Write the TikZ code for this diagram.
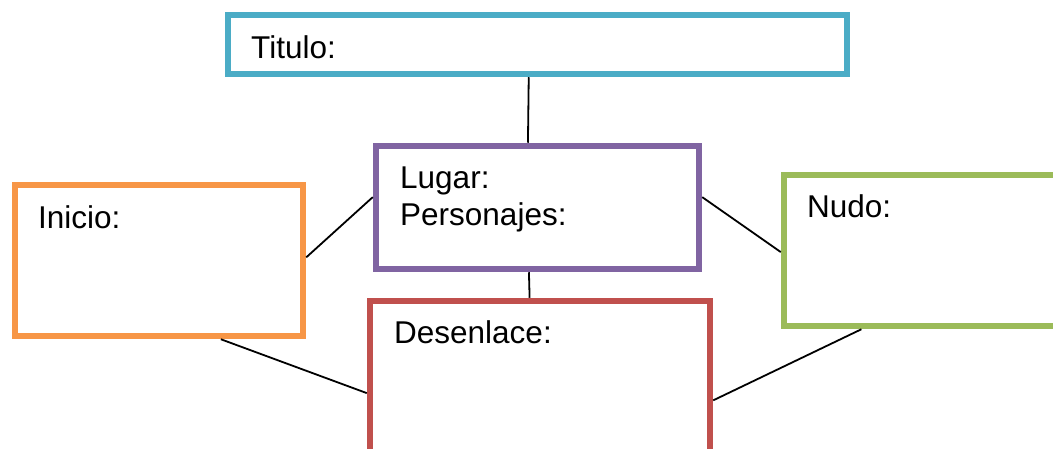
\documentclass[tikz,border=0pt]{standalone}
\usepackage{fontspec}
\setmainfont{Liberation Sans}
\usetikzlibrary{calc}
\definecolor{cTeal}{HTML}{4BACC6}
\definecolor{cPurple}{HTML}{8064A2}
\definecolor{cOrange}{HTML}{F79646}
\definecolor{cGreen}{HTML}{9BBB59}
\definecolor{cRed}{HTML}{C0504D}
\tikzset{
  box/.style={rectangle, line width=6.5bp, fill=white, inner sep=0pt, minimum width=#1},
  lbl/.style={anchor=base west, inner sep=0pt, font=\fontsize{31.5bp}{37bp}\selectfont},
  link/.style={line width=1.8bp, black},
}
\begin{document}
\begin{tikzpicture}[x=1bp,y=-1bp]
\useasboundingbox (0,0) rectangle (1053,449);
\clip (0,0) rectangle (1053,449);
\fill[white] (0,0) rectangle (1053,449);
% boxes
\node[box=619bp, minimum height=59bp, draw=cTeal] (titulo) at (537.5,44.5) {};
\node[box=323bp, minimum height=123bp, draw=cPurple] (lugar) at (537.5,207.5) {};
\node[box=288bp, minimum height=151bp, draw=cOrange] (inicio) at (159,260.5) {};
\node[box=306bp, minimum height=151bp, draw=cGreen] (nudo) at (937,250.5) {};
\node[box=340bp, minimum height=179bp, draw=cRed] (desenlace) at (540,390.5) {};
% connectors
\draw[link] ($(titulo.south west)!0.486!(titulo.south east)$) -- ($(lugar.north west)!0.471!(lugar.north east)$);
\draw[link] ($(lugar.north west)!0.42!(lugar.south west)$) -- ($(inicio.north east)!0.48!(inicio.south east)$);
\draw[link] ($(lugar.north east)!0.42!(lugar.south east)$) -- ($(nudo.north west)!0.51!(nudo.south west)$);
\draw[link] ($(lugar.south west)!0.474!(lugar.south east)$) -- ($(desenlace.north west)!0.47!(desenlace.north east)$);
\draw[link] ($(inicio.south west)!0.71!(inicio.south east)$) -- ($(desenlace.north west)!0.514!(desenlace.south west)$);
\draw[link] ($(nudo.south west)!0.258!(nudo.south east)$) -- ($(desenlace.north east)!0.553!(desenlace.south east)$);
% labels
\node[lbl] (tTitulo) at (251,59) {Titulo:};
\node[lbl] (tLugar) at (400,189) {Lugar:};
\node[lbl] (tPers) at (400,226) {Personajes:};
\node[lbl] (tInicio) at (38,229) {Inicio:};
\node[lbl] (tNudo) at (807,218) {Nudo:};
\node[lbl] (tDes) at (394,344) {Desenlace:};
\end{tikzpicture}
\end{document}
